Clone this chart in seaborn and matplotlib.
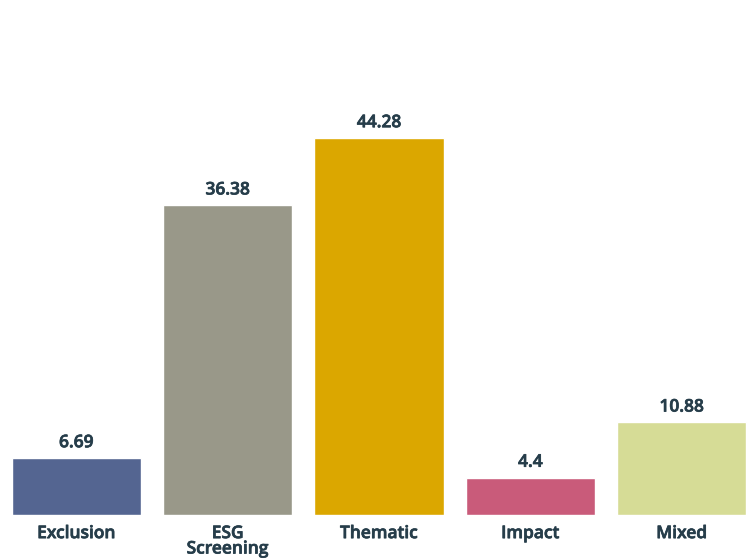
import matplotlib
matplotlib.use("Agg")
import matplotlib.pyplot as plt
import matplotlib.patheffects as pe
import seaborn as sns
import pandas as pd

categories = ["Exclusion", "ESG\nScreening", "Thematic", "Impact", "Mixed"]
values = [6.69, 36.38, 44.28, 4.4, 10.88]
colors = ["#546591", "#999889", "#DBA700", "#C95B7A", "#D6DC96"]
text_color = "#263D4A"

sns.set_style("white")
plt.rcParams["font.family"] = ["Open Sans", "DejaVu Sans"]
plt.rcParams["font.stretch"] = "normal"

# a thin outline to thicken the semibold face a little
bolder = [pe.withStroke(linewidth=0.5, foreground=text_color)]

df = pd.DataFrame({"category": categories, "value": values})

fig = plt.figure(figsize=(7.54, 5.60), dpi=100)
ax = fig.add_axes([0.0009, 45 / 560, 1.0035, 470 / 560])

sns.barplot(data=df, x="category", y="value", hue="category", palette=colors,
            width=0.853, legend=False, ax=ax, saturation=1)

for i, v in enumerate(values):
    ax.text(i, v + 0.8, f"{v:g}", ha="center", va="bottom",
            fontsize=12.5, fontweight="semibold", fontstretch="normal",
            color=text_color, path_effects=bolder)

ax.set_xlim(-0.5, 4.5)
ax.set_ylim(0, 470 / 8.514)
ax.set_xlabel("")
ax.set_ylabel("")
ax.set_yticks([])
ax.tick_params(axis="x", length=0, pad=8, labelsize=12.5, labelcolor=text_color)
for lbl in ax.get_xticklabels():
    lbl.set_fontweight("semibold")
    lbl.set_fontstretch("normal")
    lbl.set_linespacing(0.95)
    lbl.set_path_effects(bolder)
sns.despine(ax=ax, left=True, bottom=True)

fig.savefig("out.png", dpi=100)
